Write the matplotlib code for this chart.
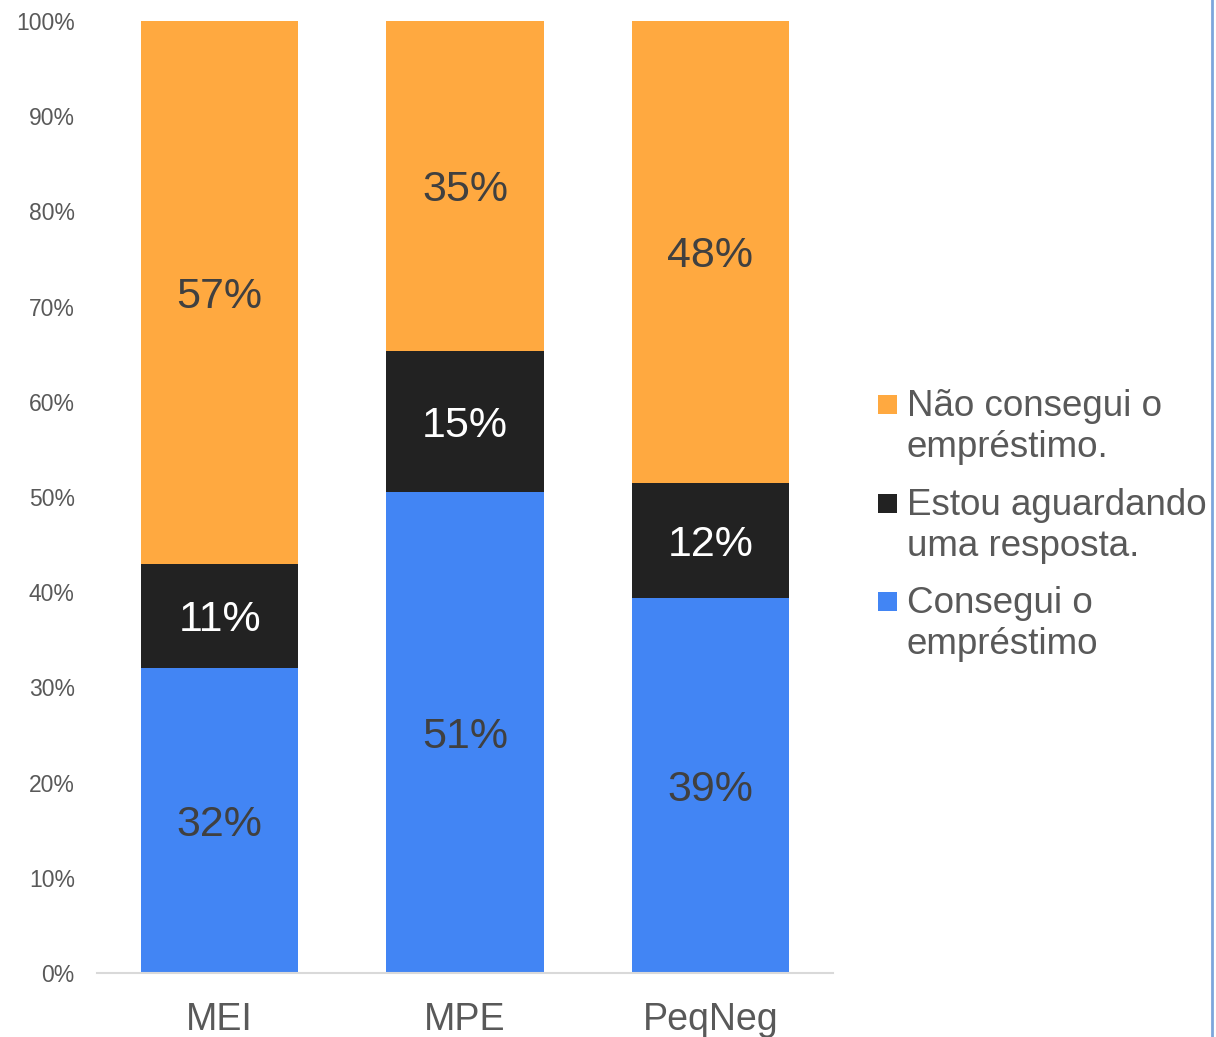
import matplotlib
matplotlib.use("Agg")
import matplotlib.pyplot as plt
from matplotlib.patches import Rectangle
from matplotlib.lines import Line2D
import numpy as np

plt.rcParams['font.family'] = ['Liberation Sans', 'DejaVu Sans']

categories = ["MEI", "MPE", "PeqNeg"]
consegui = [32, 51, 39]
aguardando = [11, 15, 12]
nao_consegui = [57, 35, 48]
series_names = [["Consegui o", "empréstimo"], ["Estou aguardando", "uma resposta."], ["Não consegui o", "empréstimo."]]
colors = ["#4285F4", "#222222", "#FFA940"]
label_colors = ["#404040", "#FFFFFF", "#404040"]
yticks = [0, 10, 20, 30, 40, 50, 60, 70, 80, 90, 100]

W, H = 1216, 1037
fig = plt.figure(figsize=(W / 100, H / 100), dpi=100)
ax = fig.add_axes([97 / W, 1 - 973 / H, (833 - 97) / W, (973 - 21) / H])

data = np.array([consegui, aguardando, nao_consegui], dtype=float)
totals = data.sum(axis=0)
norm = data / totals * 100
x = np.arange(len(categories))
bottom = np.zeros(len(categories))
for i in range(3):
    ax.bar(x, norm[i], bottom=bottom, width=0.642, color=colors[i])
    for j in range(len(categories)):
        ax.annotate(f"{int(data[i][j])}%", (x[j], bottom[j] + norm[i][j] / 2),
                    xytext=(0, -11.1), textcoords="offset points", ha="center", va="baseline",
                    fontsize=31, color=label_colors[i])
    bottom += norm[i]

ax.set_xlim(-0.5, 2.5)
ax.set_ylim(0, 100)
ax.set_yticks(yticks)
ax.set_yticklabels([f"{t}%" for t in yticks], fontsize=16.5, color="#595959")
ax.set_xticks(x)
ax.set_xticklabels(categories, fontsize=27, color="#595959")
ax.tick_params(axis="y", length=0, pad=16)
ax.tick_params(axis="x", length=0, pad=21)
for s in ["top", "right", "left"]:
    ax.spines[s].set_visible(False)
ax.spines["bottom"].set_color("#d9d9d9")
ax.spines["bottom"].set_linewidth(1.5)

# legend (manual, handles aligned with first line like the reference)
baselines = [416, 515, 613]
order = [2, 1, 0]
for k, i in enumerate(order):
    b = baselines[k]
    fig.add_artist(Rectangle((878 / W, 1 - (b - 2) / H), 19 / W, 19 / H,
                             transform=fig.transFigure, facecolor=colors[i], edgecolor="none"))
    for li, line in enumerate(series_names[i]):
        fig.text(907 / W, 1 - (b + 41 * li) / H, line, fontsize=26.5, color="#595959",
                 ha="left", va="baseline")

fig.add_artist(Line2D([1212 / W, 1212 / W], [0, 1], transform=fig.transFigure, color="#7ea6dc", linewidth=2))

fig.savefig("out.png", dpi=100)
